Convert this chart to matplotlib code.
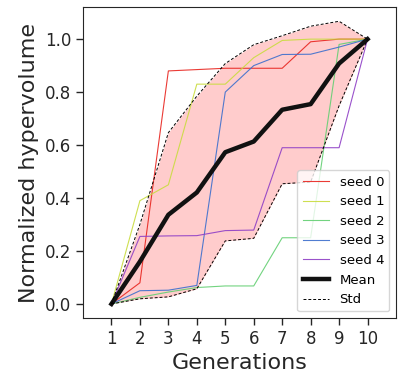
import numpy as np
from matplotlib import pyplot as plt

generations = [1, 2, 3, 4, 5, 6, 7, 8, 9, 10]
seed_names = ["seed 0", "seed 1", "seed 2", "seed 3", "seed 4"]
seed_0 = [0.0, 0.08, 0.88, 0.885, 0.89, 0.89, 0.89, 0.99, 1.0, 1.0]
seed_1 = [0.0, 0.39, 0.45, 0.83, 0.83, 0.93, 0.995, 1.0, 1.0, 1.0]
seed_2 = [0.0, 0.025, 0.045, 0.062, 0.068, 0.068, 0.25, 0.25, 0.98, 1.0]
seed_3 = [0.0, 0.05, 0.052, 0.07, 0.80, 0.90, 0.942, 0.943, 0.97, 1.0]
seed_4 = [0.0, 0.255, 0.257, 0.258, 0.277, 0.279, 0.59, 0.59, 0.59, 1.0]
seed_colors = ["#e8251f", "#c9dc3e", "#63cf72", "#3d6fcc", "#8f3fc6"]

plt.rcParams['font.family'] = 'DejaVu Sans'
fig = plt.figure(figsize=(4.0, 3.76), dpi=100)
ax = fig.add_axes([0.2075, 0.154, 0.7825, 0.827])

runs = np.array([seed_0, seed_1, seed_2, seed_3, seed_4])
mean = runs.mean(axis=0)
std = runs.std(axis=0)

for name, vals, c in zip(seed_names, runs, seed_colors):
    ax.plot(generations, vals, color=c, lw=0.8, alpha=0.9, label=name)

ax.fill_between(generations, mean - std, mean + std, color="red", alpha=0.2, lw=0)
ax.plot(generations, mean, color="#111111", lw=3.2, label="Mean")
ax.plot(generations, mean + std, color="black", lw=0.7, ls=(0, (3, 2)), label="Std")
ax.plot(generations, mean - std, color="black", lw=0.7, ls=(0, (3, 2)))

ax.set_xlim(0, 11)
ax.set_xticks(generations)
ax.set_yticks([0.0, 0.2, 0.4, 0.6, 0.8, 1.0])
ax.tick_params(labelsize=12, length=5, width=1, colors="#262626")
for s in ax.spines.values():
    s.set_color("#262626")
ax.set_xlabel("Generations", fontsize=16, color="#262626")
ax.set_ylabel("Normalized hypervolume", fontsize=16, color="#262626")
ax.legend(loc="lower right", fontsize=9.5, handlelength=2.0)

fig.savefig("out.png", dpi=100)
